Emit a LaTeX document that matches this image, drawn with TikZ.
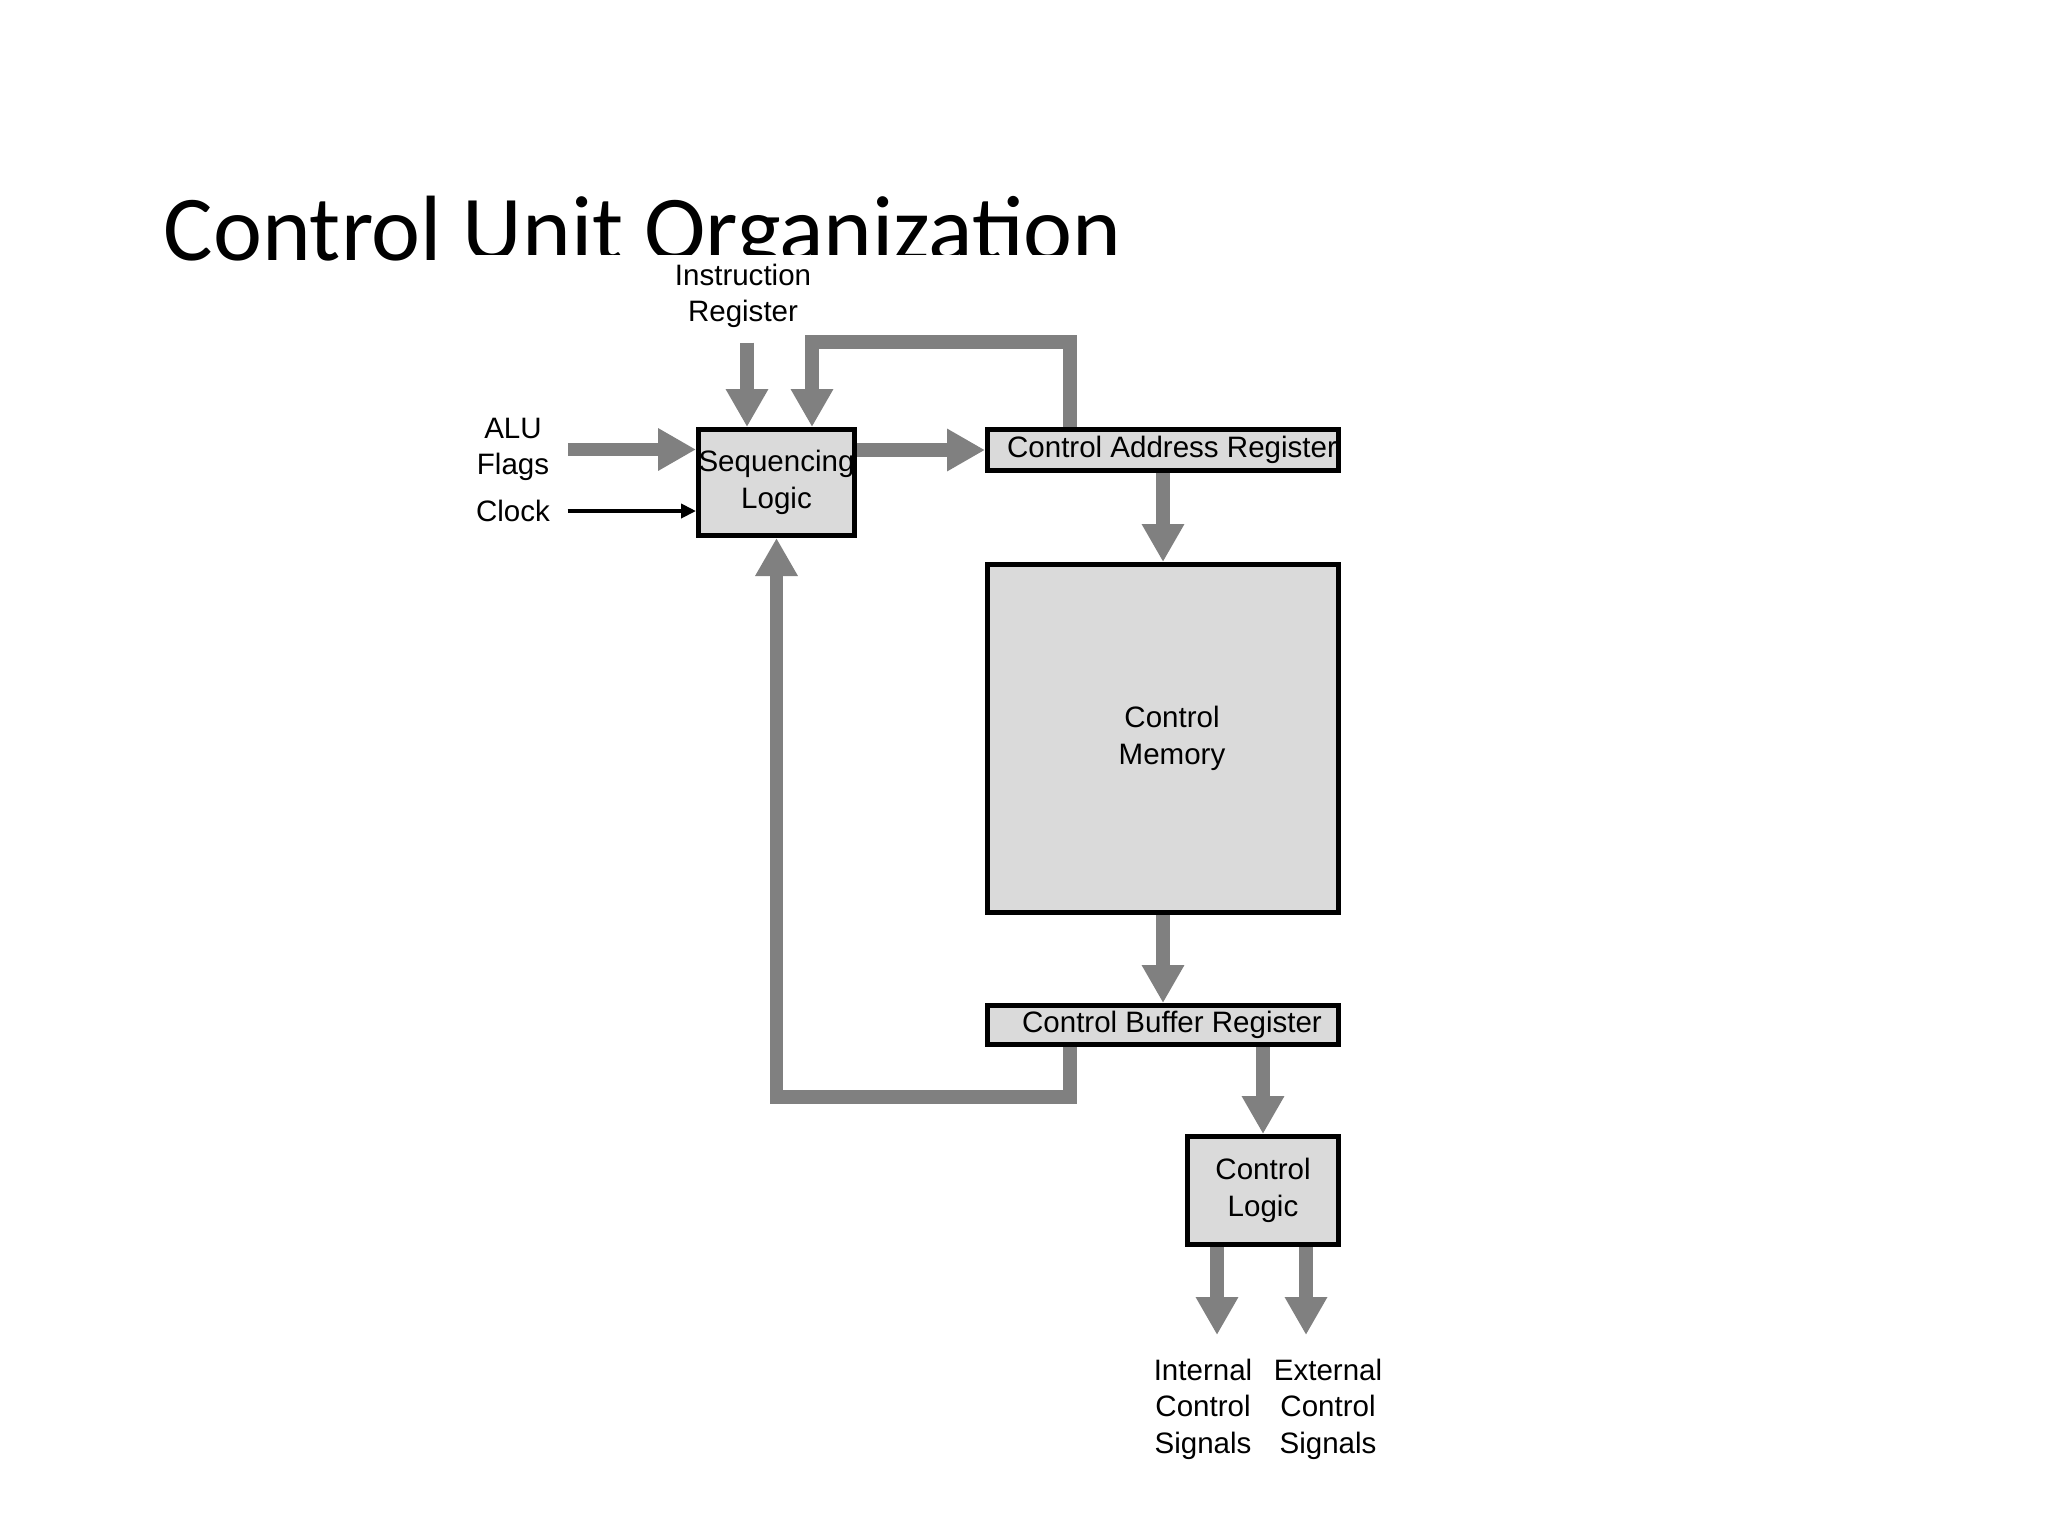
\documentclass[tikz,border=0pt]{standalone}
\usepackage{fontspec}
\setmainfont{Liberation Sans}
\newfontfamily\cutitlefont{Carlito}
\usetikzlibrary{arrows.meta,positioning}
\definecolor{cuInk}{HTML}{000000}
\definecolor{cuBus}{HTML}{808080}
\definecolor{cuFill}{HTML}{DADADA}
\newcommand\cutext{\fontsize{8.4}{10.4}\selectfont}
\tikzset{
  cu box/.style={
    draw=cuInk,
    fill=cuFill,
    line width=.5mm,
    inner sep=0pt,
    font=\cutext,
    text=cuInk,
    align=center
  },
  cu bus/.style={
    draw=cuBus,
    line width=1.35mm,
    line join=miter,
    -{Triangle[length=3.8mm,width=4mm]}
  },
  cu wire/.style={
    draw=cuInk,
    line width=.4mm,
    -{Triangle[length=1.5mm,width=1.4mm]}
  },
  cu label/.style={font=\cutext, text=cuInk, align=center, inner sep=0pt},
  cu title/.style={font=\cutitlefont\fontsize{26.4}{31}\selectfont, inner sep=0pt, anchor=base west}
}

\begin{document}
\begin{tikzpicture}[x=1mm,y=-1mm]
  \useasboundingbox (0,0) rectangle (204.8,153.6);

  % slide title, partly hidden under the figure
  \node[cu title] (title) at (16.3,26.0) {Control Unit Organization};
  \fill[white] (45,25.5) rectangle (170,153.6);

  \node[cu box, minimum width=15.0mm, minimum height=10.6mm] (seq) at (77.65,48.25) {Sequencing\\Logic};
  \node[cu box, minimum width=35.1mm, minimum height=4.1mm] (car) at (116.3,45.0) {\hspace*{1.8mm}Control Address Register};
  \node[cu box, minimum width=35.1mm, minimum height=34.8mm] (cmem) at (116.3,73.85) {\hspace*{1.8mm}Control\\\hspace*{1.8mm}Memory};
  \node[cu box, minimum width=35.1mm, minimum height=3.9mm] (cbr) at (116.3,102.5) {\hspace*{1.8mm}Control Buffer Register};
  \node[cu box, minimum width=15.1mm, minimum height=10.8mm] (clogic) at (126.3,119.05) {Control\\Logic};

  \node[cu label] (ir) at (74.3,29.6) {Instruction\\Register};
  \node[cu label] (alu) at (51.3,44.95) {ALU\\Flags};
  \node[cu label] (clock) at (51.3,51.1) {Clock};
  \node[cu label] (intsig) at (120.3,140.9) {Internal\\Control\\Signals};
  \node[cu label] (extsig) at (132.8,140.9) {External\\Control\\Signals};

  \coordinate (carloop) at (107.0,34.2);
  \coordinate (cbrloop) at (107.0,109.7);

  % inputs to the sequencer
  \draw[cu bus, shorten <=1.4mm] ([xshift=-2.95mm]seq.north |- ir.south) -- ([xshift=-2.95mm]seq.north);
  \draw[cu bus] ([xshift=1.8mm]alu.east) -- (alu.east -| seq.west);
  \draw[cu wire] ([xshift=1.7mm]clock.east) -- (clock.east -| seq.west);

  % main path
  \draw[cu bus] (seq.east |- car.west) -- (car.west);
  \draw[cu bus] (car.south) -- (cmem.north);
  \draw[cu bus] (cmem.south) -- (cbr.north);
  \draw[cu bus] (clogic.north |- cbr.south) -- (clogic.north);

  % feedback loops
  \draw[cu bus] (car.north -| carloop) -- (carloop) -| ([xshift=3.55mm]seq.north);
  \draw[cu bus] (cbr.south -| cbrloop) -- (cbrloop) -| (seq.south);

  % outputs
  \draw[cu bus, shorten >=2.3mm] ([xshift=-4.6mm]clogic.south) -- ([xshift=-4.6mm]clogic.south |- intsig.north);
  \draw[cu bus, shorten >=2.3mm] ([xshift=4.3mm]clogic.south) -- ([xshift=4.3mm]clogic.south |- extsig.north);
\end{tikzpicture}
\end{document}
